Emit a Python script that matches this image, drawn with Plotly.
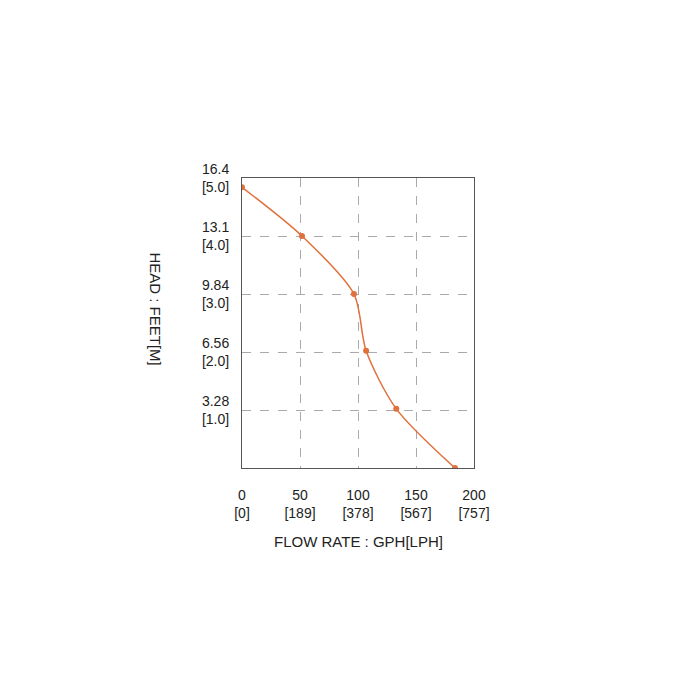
import plotly.graph_objects as go

flow_gph = [0, 51.7, 96.5, 107, 133, 183.6]
head_m = [4.84, 4.0, 3.0, 2.02, 1.02, 0.0]
x_ticks = [0, 50, 100, 150, 200]
x_labels = ["0<br>[0]", "50<br>[189]", "100<br>[378]", "150<br>[567]", "200<br>[757]"]
y_ticks = [1, 2, 3, 4, 5]
y_labels = ["3.28<br>[1.0]", "6.56<br>[2.0]", "9.84<br>[3.0]", "13.1<br>[4.0]", "16.4<br>[5.0]"]

c = "#E0703C"
fig = go.Figure(go.Scatter(x=flow_gph, y=head_m, mode="lines+markers",
                           line=dict(color=c, width=1.5, shape="spline", smoothing=0.8),
                           marker=dict(color=c, size=6)))
ax = dict(showline=True, linecolor="#555", linewidth=1, mirror=True,
          gridcolor="#aaa", griddash="dash", gridwidth=1, zeroline=False,
          ticks="outside", tickcolor="rgba(0,0,0,0)",
          tickfont=dict(family="Liberation Sans, Arial", size=14, color="#222"))
fig.update_xaxes(range=[0, 200], tickvals=x_ticks, ticktext=x_labels, ticklen=14, **ax)
fig.update_yaxes(range=[0, 5], tickvals=y_ticks, ticktext=y_labels, ticklen=9, **ax)
fig.update_layout(width=700, height=700, plot_bgcolor="white", paper_bgcolor="white",
                  showlegend=False, margin=dict(l=234, r=234, t=170, b=240),
                  font=dict(family="Liberation Sans, Arial", size=14, color="#222"),
                  annotations=[
                      dict(text="FLOW RATE : GPH[LPH]", xref="paper", yref="paper",
                           x=0.5, y=-0.29, showarrow=False, font=dict(size=15)),
                      dict(text="HEAD : FEET[M]", xref="paper", yref="paper",
                           x=-0.42, y=0.55, textangle=90, showarrow=False, font=dict(size=15)),
                  ])
fig.write_html("out.html")
